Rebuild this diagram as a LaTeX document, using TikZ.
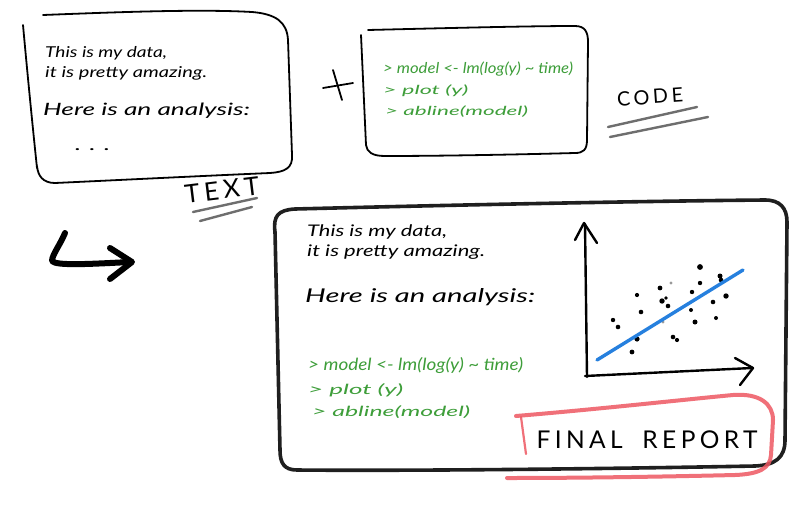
\documentclass[tikz,border=0pt]{standalone}
\usepackage{fontspec}
\setmainfont{Lato}
\newfontfamily\capsfont[LetterSpace=18]{Lato}
\usepackage{graphicx}
\definecolor{codegreen}{RGB}{62,158,58}
\definecolor{lineblue}{RGB}{38,128,222}
\definecolor{hired}{RGB}{238,88,98}
\definecolor{ulgray}{RGB}{110,110,110}
\newcommand{\fw}[2]{\resizebox{#1}{\height}{#2}}
\newcommand{\fwtall}[2]{\resizebox{#1}{1.2\height}{#2}}
\tikzset{
  pen/.style={draw=black, line width=1.8pt, line cap=round, line join=round},
  marker/.style={draw=black!88, line width=3.6pt, line cap=round, line join=round},
  hl/.style={draw=hired, line width=4pt, line cap=round, line join=round, opacity=0.85},
  ul/.style={draw=ulgray, line width=2.4pt, line cap=round},
  bigarrow/.style={draw=black, line width=6pt, line cap=round, line join=round},
  axis/.style={draw=black, line width=2.4pt, line cap=round, line join=round},
  hand/.style={anchor=base west, inner sep=0pt, text=black, font=\itshape\fontsize{#1}{#1}\selectfont},
  code/.style={anchor=base west, inner sep=0pt, text=codegreen, font=\itshape\fontsize{#1}{#1}\selectfont},
  label/.style={anchor=center, inner sep=0pt, font=\capsfont, text=black},
  dot/.style={fill=black}
}
\begin{document}
\begin{tikzpicture}[x=1pt,y=-1pt]
\useasboundingbox (0,0) rectangle (810,506);
\fill[white] (0,0) rectangle (810,506);

% ---------- TEXT box ----------
\draw[pen] (43,15) .. controls (120,12) and (200,9) .. (252,12)
  .. controls (276,14) and (287,22) .. (288,40) -- (292,155)
  .. controls (293,168) and (285,172) .. (270,173)
  .. controls (200,176) and (120,180) .. (55,183)
  .. controls (43,183) and (38,176) .. (37,166);
\draw[pen] (23,25) .. controls (28,80) and (33,130) .. (37,168);
\node[hand=15] (t1) at (45,57) {\fw{122pt}{This is my data,}};
\node[hand=15] (t2) at (45,77) {\fw{162pt}{it is pretty amazing.}};
\node[hand=17] (t3) at (43,115) {\fw{207pt}{Here is an analysis:}};
\node[hand=16] (t4) at (75,150) {\fw{35pt}{. . .}};

% TEXT label
\node[label, rotate=7] (textlbl) at (222,190) {\resizebox{75pt}{!}{TEXT}};
\draw[ul] (193,212) -- (257,198);
\draw[ul] (200,221) -- (252,207);

% plus
\draw[pen] (323,88) -- (353,83);
\draw[pen] (333,70) -- (342,100);

% ---------- CODE box ----------
\draw[pen] (368,30) .. controls (450,28) and (530,26) .. (575,26)
  .. controls (585,26) and (588,32) .. (588,42) -- (587,140)
  .. controls (587,150) and (583,153) .. (575,153)
  .. controls (500,155) and (430,156) .. (385,156)
  .. controls (372,156) and (367,152) .. (366,145) -- (361,35);
\node[code=12.5] (c1) at (383,73) {\fwtall{190pt}{> model <- lm(log(y) \textasciitilde{} time)}};
\node[code=12.5] (c2) at (383,94) {\fw{85pt}{> plot (y)}};
\node[code=12.5] (c3) at (385,115) {\fw{143pt}{> abline(model)}};

% CODE label
\node[label, rotate=4] (codelbl) at (650,97) {\resizebox{66pt}{!}{CODE}};
\draw[ul] (608,127) -- (697,107);
\draw[ul] (610,137) -- (708,117);

% ---------- big arrow ----------
\draw[bigarrow] (65,233) .. controls (60,245) and (52,255) .. (52,261)
  .. controls (56,266) and (90,264) .. (130,262);
\draw[bigarrow] (110,248) -- (132,262) -- (110,279);

% ---------- FINAL REPORT box ----------
\draw[marker] (275,232) .. controls (273,216) and (278,210) .. (295,209)
  .. controls (450,205) and (650,201) .. (765,200)
  .. controls (780,200) and (787,208) .. (787,222) -- (785,440)
  .. controls (785,458) and (775,465) .. (755,466)
  .. controls (600,469) and (400,471) .. (297,470)
  .. controls (284,470) and (280,463) .. (280,450) -- cycle;

\node[hand=16] (f1) at (307,236) {\fw{140pt}{This is my data,}};
\node[hand=16] (f2) at (307,256) {\fw{178pt}{it is pretty amazing.}};
\node[hand=19] (f3) at (305,302) {\fw{230pt}{Here is an analysis:}};
\node[code=14] (f4) at (308,370) {\fwtall{215pt}{> model <- lm(log(y) \textasciitilde{} time)}};
\node[code=14] (f5) at (308,394) {\fw{95pt}{> plot (y)}};
\node[code=14] (f6) at (312,416) {\fw{158pt}{> abline(model)}};

% plot
\draw[axis] (587,377) -- (585,224);
\draw[axis] (575,240) -- (584,223) -- (597,243);
\draw[axis] (585,376) -- (752,368);
\draw[axis] (735,358) -- (753,368) -- (740,385);
\foreach \px/\py/\r in {613/320/2.2, 618/327/2.3, 632/352/2.4, 637/339/2.6, 637/295/2.1,
  641/312/2.3, 660/288/2.4, 662/301/2.7, 666/298/1.8, 668/306/2.3, 673/337/2.3,
  677/340/2.1, 692/292/2.2, 691/310/2.0, 695/322/2.5, 700/267/2.9, 700/283/2.2,
  713/302/2.3, 716/318/2.0, 720/276/2.5, 721/280/2.3, 726/296/2.7}
  \fill[dot] (\px,\py) circle (\r pt);
\fill[black!40] (671,283) circle (1.6pt);
\fill[black!40] (663,322) circle (1.6pt);
\draw[draw=lineblue, line width=3.4pt, line cap=round] (597,360) -- (743,270);

% FINAL REPORT highlight
\draw[hl, line width=2.2pt] (521,417) -- (526,454);
\draw[hl] (516,416) .. controls (600,409) and (680,400) .. (733,395)
  .. controls (760,393) and (773,404) .. (773,420) -- (771,455)
  .. controls (770,468) and (760,474) .. (735,475)
  .. controls (650,477) and (570,478) .. (507,478);
\node[label] (final) at (647,440) {\resizebox{221pt}{!}{FINAL\hspace{0.8em}REPORT}};
\end{tikzpicture}
\end{document}
